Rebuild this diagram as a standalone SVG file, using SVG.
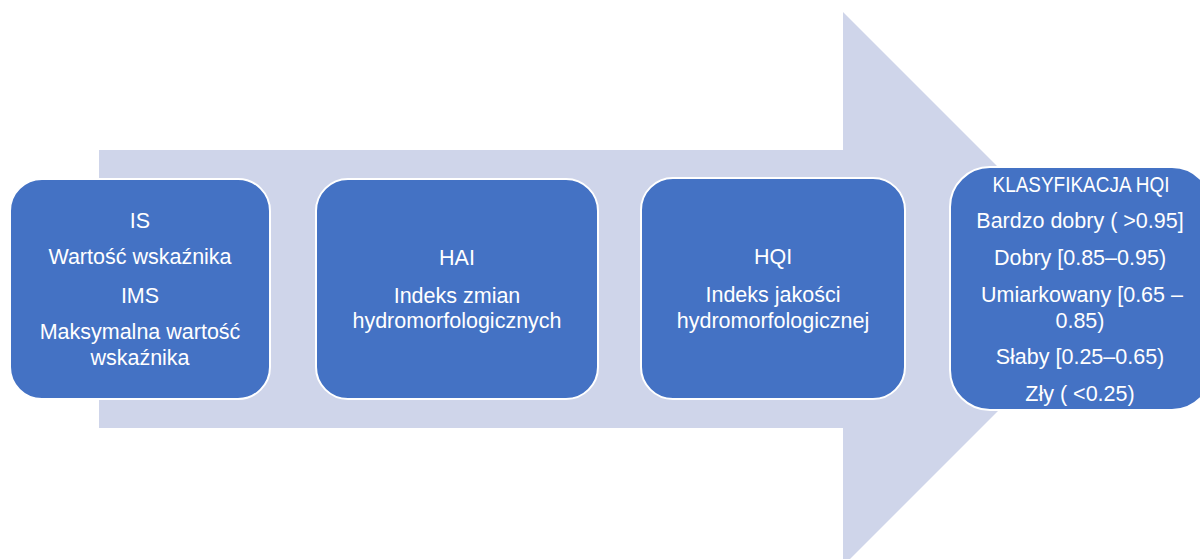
<svg xmlns="http://www.w3.org/2000/svg" width="1200" height="559" viewBox="0 0 1200 559">
<style>
.box{fill:#4472C4;stroke:#FFFFFF;stroke-width:2}
.t{font-family:"Liberation Sans",Arial,sans-serif;font-size:21.5px;fill:#FFFFFF;text-anchor:middle}
</style>
<rect width="1200" height="559" fill="#FFFFFF"/>
<g id="connectors">
<polygon points="99,150 843,150 843,12 1120,289 843,566 843,428 99,428" fill="#CFD5EA"/>
</g>
<g id="node-is">
<rect class="box" x="10" y="179" width="260" height="220" rx="32"/>
<text class="t" x="140" y="228">IS</text>
<text class="t" x="140" y="264">Wartość wskaźnika</text>
<text class="t" x="140" y="303">IMS</text>
<text class="t" x="140" y="339">Maksymalna wartość</text>
<text class="t" x="140" y="365">wskaźnika</text>
</g>
<g id="node-hai">
<rect class="box" x="316" y="179" width="282" height="220" rx="32"/>
<text class="t" x="457" y="265">HAI</text>
<text class="t" x="457" y="303">Indeks zmian</text>
<text class="t" x="457" y="328">hydromorfologicznych</text>
</g>
<g id="node-hqi">
<rect class="box" x="641" y="178" width="264" height="221" rx="32"/>
<text class="t" x="773" y="264">HQI</text>
<text class="t" x="773" y="302">Indeks jakości</text>
<text class="t" x="773" y="328">hydromorfologicznej</text>
</g>
<g id="node-klasyfikacja">
<rect class="box" x="950" y="167" width="262" height="243" rx="40"/>
<text class="t" x="1081" y="192" textLength="177" lengthAdjust="spacingAndGlyphs">KLASYFIKACJA HQI</text>
<text class="t" x="1080" y="228">Bardzo dobry ( &gt;0.95]</text>
<text class="t" x="1080" y="265">Dobry [0.85–0.95)</text>
<text class="t" x="1082" y="302">Umiarkowany [0.65 –</text>
<text class="t" x="1080" y="328">0.85)</text>
<text class="t" x="1080" y="364">Słaby [0.25–0.65)</text>
<text class="t" x="1080" y="401">Zły ( &lt;0.25)</text>
</g>
</svg>
